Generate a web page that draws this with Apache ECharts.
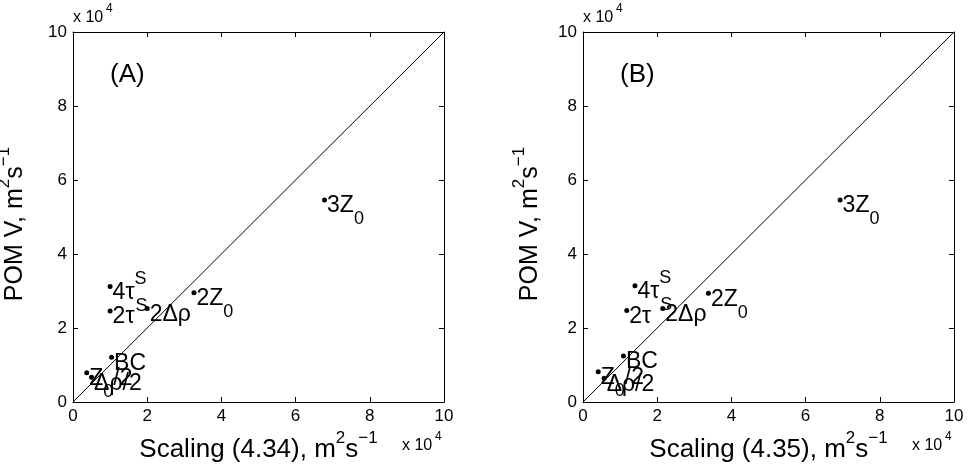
<!DOCTYPE html>
<html><head><meta charset="utf-8">
<script src="https://cdn.jsdelivr.net/npm/echarts@6/dist/echarts.min.js"></script>
<style>html,body{margin:0;padding:0;background:#fff}#c{width:969px;height:469px}</style>
</head><body><div id="c"></div>
<script>
// point labels (rich-text markup: m = main, sub = subscript, sup = superscript)
const pointLabels = ['{m|3Z}{sub|0}', '{m|2Z}{sub|0}', '{m|4τ}{supz|S}{sub|S}', '{m|2τ}', '{m|2Δρ}', '{m|BC}', '{m|Z}{sub|0}{m|/2}', '{m|Δρ/2}'];
// Panel A: Scaling (4.34) vs POM V
const xA = [67800, 32600, 10000, 10000, 20000, 10400, 3700, 5000];
const yA = [54600, 29500, 31200, 24600, 25300, 12100, 7900, 6700];
// Panel B: Scaling (4.35) vs POM V
const xB = [69300, 33800, 14000, 11800, 21500, 10900, 4100, 5700];
const yB = [54600, 29400, 31400, 24700, 25300, 12400, 8200, 6400];
// 1:1 reference line
const diagonal = [[0, 0], [100000, 100000]];
const xTitles = ['Scaling (4.34), m{sup|2}s{sup|−1}', 'Scaling (4.35), m{sup|2}s{sup|−1}'];
const yTitle = 'POM V, m{sup|2}s{sup|−1}';
const panelTags = ['(A)', '(B)'];
const multiplier = 'x 10';
const multiplierExp = '4';
const axisMin = 0, axisMax = 100000, axisStep = 20000, axisScale = 10000;

const FONT = 'Liberation Sans, Arial, Helvetica, sans-serif';
const chart = echarts.init(document.getElementById('c'), null, {renderer: 'canvas'});

const grids = [
  {left: 73, top: 32, width: 371, height: 370},
  {left: 583, top: 32, width: 371, height: 370}
];
const black = '#000';
const titleRich = {
  sup: {fontSize: 17, fontFamily: FONT, color: black, padding: [0, 0, 22, 0]}
};
const labelRich = {
  m: {fontSize: 23, fontFamily: FONT, color: black},
  sub: {fontSize: 18, fontFamily: FONT, color: black, padding: [27, 0, 0, 0]},
  sup: {fontSize: 18, fontFamily: FONT, color: black, padding: [0, 0, 27, 0]},
  supz: {fontSize: 18, fontFamily: FONT, color: black, padding: [0, 0, 27, 0], width: 1}
};

const xAxes = [], yAxes = [], series = [], graphics = [];
const yNameGaps = [38, 33];
[0, 1].forEach(g => {
  const base = {
    type: 'value', gridIndex: g, min: axisMin, max: axisMax, interval: axisStep,
    axisLine: {show: true, onZero: false, lineStyle: {color: black, width: 1}},
    axisTick: {show: true, inside: true, length: 5, lineStyle: {color: black}},
    splitLine: {show: false}
  };
  const lbl = {color: black, fontSize: 17, fontFamily: FONT, formatter: v => String(v / axisScale)};
  xAxes.push(Object.assign({}, base, {
    position: 'bottom', axisLabel: Object.assign({margin: 6}, lbl),
    name: xTitles[g], nameLocation: 'middle', nameGap: 22,
    nameTextStyle: {fontSize: 26, fontFamily: FONT, color: black, rich: titleRich}
  }));
  xAxes.push(Object.assign({}, base, {position: 'top', axisLabel: {show: false}}));
  yAxes.push(Object.assign({}, base, {
    position: 'left', axisLabel: Object.assign({margin: 6}, lbl),
    name: yTitle, nameLocation: 'middle', nameGap: yNameGaps[g],
    nameTextStyle: {fontSize: 25, fontFamily: FONT, color: black, rich: titleRich, padding: [0, 14, 0, 0]}
  }));
  yAxes.push(Object.assign({}, base, {position: 'right', axisLabel: {show: false}}));

  const xs = g === 0 ? xA : xB, ys = g === 0 ? yA : yB;
  series.push({
    type: 'line', xAxisIndex: 2 * g, yAxisIndex: 2 * g, data: diagonal,
    symbol: 'none', silent: true, lineStyle: {color: black, width: 1}, z: 1
  });
  series.push({
    type: 'scatter', xAxisIndex: 2 * g, yAxisIndex: 2 * g,
    data: xs.map((x, i) => [x, ys[i]]),
    symbolSize: 5, itemStyle: {color: black, opacity: 1}, z: 3,
    label: {
      show: true, position: 'right', distance: 0, offset: [0, 6], color: black, opacity: 1,
      formatter: p => pointLabels[p.dataIndex], rich: labelRich
    }
  });

  const L = grids[g].left, R = grids[g].left + grids[g].width;
  graphics.push({type: 'text', left: L + 37, top: 62,
    style: {text: panelTags[g], font: '26px ' + FONT, fill: black}});
  graphics.push({type: 'text', left: L, top: 10,
    style: {text: multiplier, font: '16px ' + FONT, fill: black}});
  graphics.push({type: 'text', left: L + 33, top: 3,
    style: {text: multiplierExp, font: '12px ' + FONT, fill: black}});
  graphics.push({type: 'text', left: R - 42, top: 438,
    style: {text: multiplier, font: '16px ' + FONT, fill: black}});
  graphics.push({type: 'text', left: R - 9, top: 431,
    style: {text: multiplierExp, font: '12px ' + FONT, fill: black}});
});

chart.setOption({
  animation: false,
  backgroundColor: '#fff',
  grid: grids.map(g => Object.assign({containLabel: false, outerBoundsMode: 'none'}, g)),
  xAxis: xAxes, yAxis: yAxes, series: series, graphic: graphics
});
</script></body></html>
